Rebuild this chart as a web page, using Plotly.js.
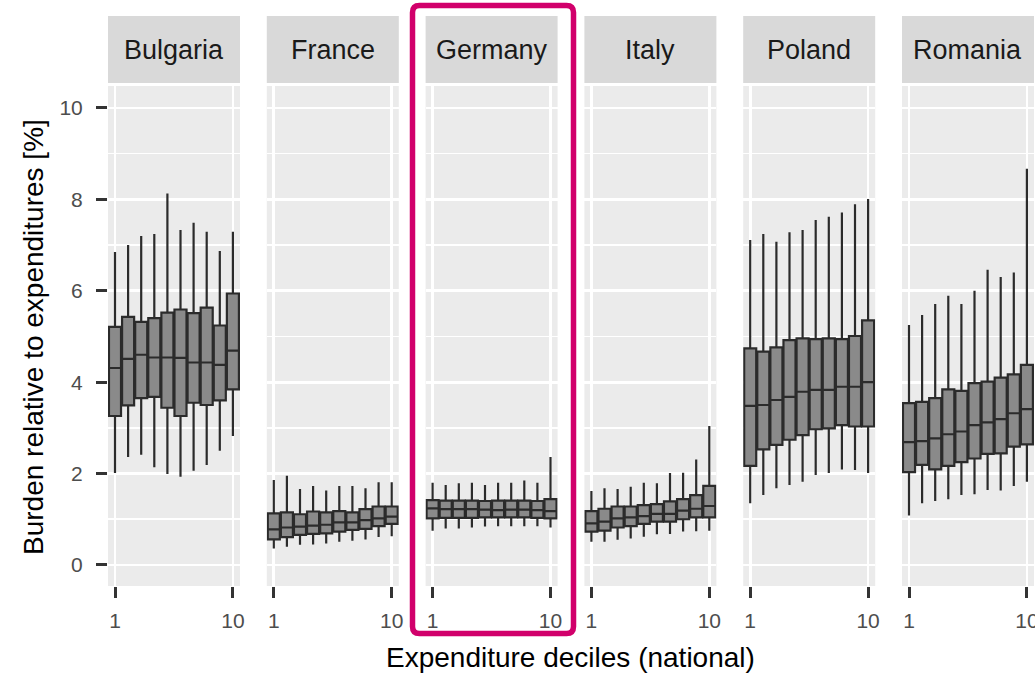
<!DOCTYPE html>
<html>
<head>
<meta charset="utf-8">
<script src="https://cdn.plot.ly/plotly-3.0.1.min.js"></script>
<style>html,body{margin:0;padding:0;background:#fff;}#chart{width:1035px;height:674px;}</style>
</head>
<body>
<div id="chart"></div>
<script>
// ---- data ----
const countries = ["Bulgaria", "France", "Germany", "Italy", "Poland", "Romania"];
const deciles = [1, 2, 3, 4, 5, 6, 7, 8, 9, 10];
const xTickVals = [1, 10];
const xTickText = ["1", "10"];

const bulgaria_lo  = [2.01, 2.36, 2.41, 2.14, 1.99, 1.93, 2.06, 2.19, 2.50, 2.82];
const bulgaria_q1  = [3.26, 3.49, 3.65, 3.68, 3.44, 3.26, 3.55, 3.50, 3.60, 3.84];
const bulgaria_med = [4.31, 4.51, 4.60, 4.54, 4.54, 4.53, 4.43, 4.43, 4.38, 4.69];
const bulgaria_q3  = [5.21, 5.43, 5.32, 5.40, 5.52, 5.59, 5.51, 5.63, 5.24, 5.94];
const bulgaria_hi  = [6.85, 7.00, 7.20, 7.24, 8.13, 7.33, 7.49, 7.29, 6.87, 7.29];

const france_lo  = [0.36, 0.40, 0.44, 0.45, 0.47, 0.51, 0.53, 0.56, 0.61, 0.63];
const france_q1  = [0.56, 0.61, 0.66, 0.68, 0.69, 0.73, 0.77, 0.79, 0.85, 0.90];
const france_med = [0.78, 0.82, 0.84, 0.86, 0.88, 0.93, 0.93, 0.98, 1.02, 1.06];
const france_q3  = [1.13, 1.15, 1.11, 1.17, 1.15, 1.18, 1.15, 1.22, 1.28, 1.28];
const france_hi  = [1.86, 1.95, 1.66, 1.73, 1.63, 1.73, 1.73, 1.68, 1.81, 1.81];

const germany_lo  = [0.75, 0.80, 0.80, 0.82, 0.84, 0.85, 0.85, 0.85, 0.85, 0.82];
const germany_q1  = [1.02, 1.03, 1.03, 1.03, 1.04, 1.04, 1.04, 1.04, 1.03, 1.02];
const germany_med = [1.24, 1.22, 1.22, 1.22, 1.21, 1.20, 1.21, 1.21, 1.20, 1.18];
const germany_q3  = [1.42, 1.41, 1.41, 1.41, 1.40, 1.41, 1.41, 1.41, 1.40, 1.44];
const germany_hi  = [1.80, 1.75, 1.79, 1.80, 1.75, 1.80, 1.80, 1.85, 1.80, 2.36];

const italy_lo  = [0.51, 0.51, 0.55, 0.58, 0.62, 0.67, 0.68, 0.73, 0.74, 0.75];
const italy_q1  = [0.73, 0.75, 0.82, 0.85, 0.90, 0.95, 0.95, 1.00, 1.04, 1.04];
const italy_med = [0.91, 0.95, 1.02, 1.04, 1.07, 1.12, 1.12, 1.19, 1.23, 1.29];
const italy_q3  = [1.18, 1.23, 1.28, 1.28, 1.31, 1.33, 1.39, 1.44, 1.53, 1.73];
const italy_hi  = [1.62, 1.68, 1.66, 1.71, 1.80, 1.79, 2.01, 2.02, 2.31, 3.04];

const poland_lo  = [1.35, 1.53, 1.68, 1.75, 1.82, 1.97, 2.01, 2.09, 2.08, 2.01];
const poland_q1  = [2.17, 2.53, 2.63, 2.74, 2.84, 2.97, 2.99, 3.06, 3.03, 3.03];
const poland_med = [3.48, 3.50, 3.61, 3.68, 3.79, 3.83, 3.83, 3.90, 3.90, 4.00];
const poland_q3  = [4.74, 4.67, 4.76, 4.92, 4.96, 4.94, 4.96, 4.94, 5.01, 5.35];
const poland_hi  = [7.11, 7.24, 7.07, 7.28, 7.33, 7.55, 7.62, 7.71, 7.89, 8.01];

const romania_lo  = [1.08, 1.35, 1.40, 1.44, 1.53, 1.55, 1.64, 1.63, 1.73, 1.82];
const romania_q1  = [2.03, 2.19, 2.09, 2.17, 2.25, 2.33, 2.43, 2.44, 2.59, 2.64];
const romania_med = [2.69, 2.71, 2.77, 2.86, 2.92, 3.06, 3.12, 3.19, 3.32, 3.41];
const romania_q3  = [3.54, 3.57, 3.65, 3.84, 3.81, 3.98, 4.01, 4.10, 4.17, 4.38];
const romania_hi  = [5.25, 5.47, 5.71, 5.89, 5.71, 6.00, 6.46, 6.30, 6.40, 8.67];

const stats = [
  [bulgaria_lo, bulgaria_q1, bulgaria_med, bulgaria_q3, bulgaria_hi],
  [france_lo, france_q1, france_med, france_q3, france_hi],
  [germany_lo, germany_q1, germany_med, germany_q3, germany_hi],
  [italy_lo, italy_q1, italy_med, italy_q3, italy_hi],
  [poland_lo, poland_q1, poland_med, poland_q3, poland_hi],
  [romania_lo, romania_q1, romania_med, romania_q3, romania_hi]
];

// ---- layout geometry (pixels) ----
const W = 1035, H = 674;
const mL = 108, mR = 0, mT = 16, mB = 88;
const plotW = W - mL - mR, plotH = H - mT - mB;
const pitch = 158.8, panelW = 132;
const panelTopPx = 86, stripTopPx = 16, stripBotPx = 83;
const px2x = p => (p - mL) / plotW;
const py2y = p => (H - mB - p) / plotH;

const FONT = '"Liberation Sans", Arial, Helvetica, sans-serif';

const traces = [];
const layout = {
  width: W, height: H,
  margin: {l: mL, r: mR, t: mT, b: mB},
  paper_bgcolor: '#ffffff',
  plot_bgcolor: '#ebebeb',
  showlegend: false,
  font: {family: FONT},
  shapes: [],
  annotations: [],
  yaxis: {
    domain: [0, py2y(panelTopPx)],
    range: [-0.46, 10.48],
    anchor: 'x',
    tickmode: 'linear', tick0: 0, dtick: 2,
    ticks: 'outside', ticklen: 11, tickwidth: 3, tickcolor: '#333333',
    ticklabelstandoff: 9,
    tickfont: {size: 21, color: '#4d4d4d', family: FONT},
    showgrid: true, gridcolor: '#ffffff', gridwidth: 2.8,
    minor: {tickmode: 'linear', tick0: 0, dtick: 1, showgrid: true, gridcolor: '#ffffff', gridwidth: 1.6, ticks: ''},
    zeroline: false, showline: false, fixedrange: true
  }
};

countries.forEach((name, k) => {
  const left = mL + pitch * k;
  let right = left + panelW;
  if (right > W - mR) { right = W - mR; }
  const d0 = px2x(left), d1 = Math.min(1, px2x(right));
  const axKey = k === 0 ? 'xaxis' : 'xaxis' + (k + 1);
  const axRef = k === 0 ? 'x' : 'x' + (k + 1);
  const rEnd = 0.466 + (right - left) / 13.1;
  layout[axKey] = {
    domain: [d0, d1],
    range: [0.466, rEnd],
    anchor: 'y',
    tickmode: 'array', tickvals: xTickVals, ticktext: xTickText,
    ticks: 'outside', ticklen: 11, tickwidth: 3, tickcolor: '#333333',
    ticklabelstandoff: 5,
    ticklabeloverflow: 'allow',
    tickfont: {size: 21, color: '#4d4d4d', family: FONT},
    showgrid: true, gridcolor: '#ffffff', gridwidth: 2.8,
    zeroline: false, showline: false, fixedrange: true
  };
  const s = stats[k];
  traces.push({
    type: 'box',
    name: name,
    x: deciles,
    lowerfence: s[0], q1: s[1], median: s[2], q3: s[3], upperfence: s[4],
    xaxis: axRef, yaxis: 'y',
    width: 0.92,
    whiskerwidth: 0,
    boxpoints: false,
    fillcolor: '#8a8a8a',
    line: {color: '#2b2b2b', width: 2.2},
    hoverinfo: 'skip'
  });
  // strip
  layout.shapes.push({
    type: 'rect', xref: 'paper', yref: 'paper',
    x0: d0, x1: d1, y0: py2y(stripBotPx), y1: py2y(stripTopPx),
    fillcolor: '#d9d9d9', line: {width: 0}, layer: 'below'
  });
  layout.annotations.push({
    xref: 'paper', yref: 'paper',
    x: (px2x(left) + px2x(left + panelW)) / 2, y: py2y((stripTopPx + stripBotPx) / 2 + 1),
    xanchor: 'center', yanchor: 'middle', showarrow: false,
    text: name, font: {size: 27, color: '#1a1a1a', family: FONT}
  });
});

// axis titles
layout.annotations.push({
  xref: 'paper', yref: 'paper', x: px2x(33), y: py2y(337),
  xanchor: 'center', yanchor: 'middle', showarrow: false, textangle: -90,
  text: 'Burden relative to expenditures [%]', font: {size: 28, color: '#000000', family: FONT}
});
layout.annotations.push({
  xref: 'paper', yref: 'paper', x: px2x(570), y: py2y(657),
  xanchor: 'center', yanchor: 'middle', showarrow: false,
  text: 'Expenditure deciles (national)', font: {size: 28, color: '#000000', family: FONT}
});

// highlight frame around Germany
(function () {
  const x0 = 412.5, x1 = 573.5, y0 = 5.5, y1 = 633.5, r = 7;
  const P = (x, y) => px2x(x).toFixed(5) + ',' + py2y(y).toFixed(5);
  const path = 'M' + P(x0 + r, y0) + ' L' + P(x1 - r, y0) + ' Q' + P(x1, y0) + ' ' + P(x1, y0 + r) +
    ' L' + P(x1, y1 - r) + ' Q' + P(x1, y1) + ' ' + P(x1 - r, y1) +
    ' L' + P(x0 + r, y1) + ' Q' + P(x0, y1) + ' ' + P(x0, y1 - r) +
    ' L' + P(x0, y0 + r) + ' Q' + P(x0, y0) + ' ' + P(x0 + r, y0) + ' Z';
  layout.shapes.push({
    type: 'path', xref: 'paper', yref: 'paper', path: path,
    line: {color: '#d1006b', width: 5.5}, fillcolor: 'rgba(0,0,0,0)', layer: 'above'
  });
})();

Plotly.newPlot('chart', traces, layout, {displayModeBar: false, staticPlot: true});
</script>
</body>
</html>
